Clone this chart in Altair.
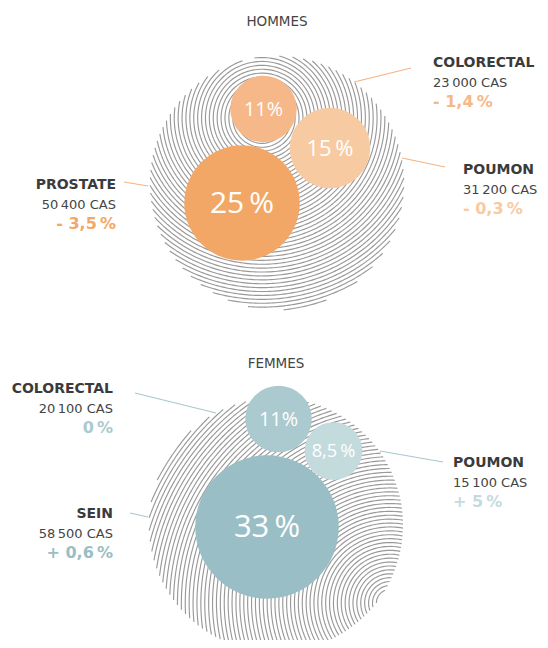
import numpy as np
import pandas as pd
import altair as alt

# ---------------- data ----------------
panels = ["HOMMES", "FEMMES"]

cat_h = ["PROSTATE", "COLORECTAL", "POUMON"]
share_h = [25, 11, 15]
cases_h = ["50\u202f400 CAS", "23\u202f000 CAS", "31\u202f200 CAS"]
change_h = ["- 3,5\u2009%", "- 1,4\u2009%", "- 0,3\u2009%"]

cat_f = ["SEIN", "COLORECTAL", "POUMON"]
share_f = [33, 11, 8.5]
cases_f = ["58\u202f500 CAS", "20\u202f100 CAS", "15\u202f100 CAS"]
change_f = ["+ 0,6\u2009%", "0\u2009%", "+ 5\u2009%"]

# ---------------- layout / style ----------------
W, H = 532, 632
panel_center = {"HOMMES": (277, 183), "FEMMES": (276, 525)}
panel_R = 127
title_offset = -161
swirl_center = {"HOMMES": (-15, -65), "FEMMES": (114, 78)}
swirl_gap = 3.9

bubble_off = {
    ("HOMMES", "PROSTATE"): (-35, 20),
    ("HOMMES", "COLORECTAL"): (-13.5, -74),
    ("HOMMES", "POUMON"): (53, -35),
    ("FEMMES", "SEIN"): (-9, 2),
    ("FEMMES", "COLORECTAL"): (2.5, -106),
    ("FEMMES", "POUMON"): (57.5, -74),
}
label_off = {
    ("HOMMES", "PROSTATE"): (-161, 6, "right"),
    ("HOMMES", "COLORECTAL"): (156, -116, "left"),
    ("HOMMES", "POUMON"): (186, -9, "left"),
    ("FEMMES", "COLORECTAL"): (-163, -132, "right"),
    ("FEMMES", "SEIN"): (-163, -7, "right"),
    ("FEMMES", "POUMON"): (177, -58, "left"),
}
leader_off = {
    ("HOMMES", "PROSTATE"): (-153, -1, -129, 3),
    ("HOMMES", "COLORECTAL"): (77, -101, 134, -115),
    ("HOMMES", "POUMON"): (125, -25, 168, -16),
    ("FEMMES", "COLORECTAL"): (-141, -132, -60, -112),
    ("FEMMES", "SEIN"): (-146, -12, -128, -8),
    ("FEMMES", "POUMON"): (104, -74, 167, -63),
}
colors = {
    ("HOMMES", "PROSTATE"): "#F3A766",
    ("HOMMES", "COLORECTAL"): "#F6B888",
    ("HOMMES", "POUMON"): "#F8CAA2",
    ("FEMMES", "SEIN"): "#9ABEC5",
    ("FEMMES", "COLORECTAL"): "#AACACF",
    ("FEMMES", "POUMON"): "#C4DBDE",
}
leader_color = {"HOMMES": "#F5B383", "FEMMES": "#A9C8CD"}
FONT = "DejaVu Sans"
BUBBLE_FONT = "Open Sans"

# ---------------- tables ----------------
rows = []
for panel, cats, shares, cases, changes in [
    ("HOMMES", cat_h, share_h, cases_h, change_h),
    ("FEMMES", cat_f, share_f, cases_f, change_f),
]:
    for c, s, cs, ch in zip(cats, shares, cases, changes):
        key = (panel, c)
        rows.append(dict(
            panel=panel, name=c, share=s, cases=cs, change=ch,
            cx=panel_center[panel][0] + bubble_off[key][0],
            cy=panel_center[panel][1] + bubble_off[key][1],
            color=colors[key],
            label=str(s).replace(".", ",") + ("%" if s == 11 else "\u2009%"),
        ))
df = pd.DataFrame(rows)

trows = []
lrows = []
for r in rows:
    key = (r["panel"], r["name"])
    ox, oy, al = label_off[key]
    px, py = panel_center[r["panel"]]
    trows.append(dict(x=px + ox, y=py + oy, t=r["name"], kind="name", side=al, color="#3b3b3b"))
    trows.append(dict(x=px + ox, y=py + oy + 20, t=r["cases"], kind="cases", side=al, color="#444444"))
    trows.append(dict(x=px + ox, y=py + oy + 40, t=r["change"], kind="change", side=al, color=r["color"]))
    a, b, c, d = leader_off[key]
    lrows.append(dict(x=px + a, y=py + b, x2=px + c, y2=py + d, color=leader_color[r["panel"]]))
tdf = pd.DataFrame(trows)
ldf = pd.DataFrame(lrows)

# swirl texture (concentric arcs clipped to the panel circle)
srows = []
seg = 0
for p in panels:
    Ox, Oy = panel_center[p]
    Cx, Cy = Ox + swirl_center[p][0], Oy + swirl_center[p][1]
    dx, dy = Ox - Cx, Oy - Cy
    d = np.hypot(dx, dy)
    phi = np.arctan2(dy, dx)
    r = swirl_gap / 2
    while r < d + panel_R:
        if r + d <= panel_R:
            t0, t1 = 0.0, 2 * np.pi
        else:
            cosa = (r * r + d * d - panel_R ** 2) / (2 * r * d)
            if cosa >= 1:
                r += swirl_gap
                continue
            a = np.arccos(np.clip(cosa, -1, 1))
            t0, t1 = phi - a, phi + a
        n = max(3, int((t1 - t0) * r / 2.5))
        th = np.linspace(t0, t1, n)
        for i, tt in enumerate(th):
            srows.append(dict(x=Cx + r * np.cos(tt), y=Cy + r * np.sin(tt), seg=seg, i=i))
        seg += 1
        r += swirl_gap
sdf = pd.DataFrame(srows).round(2)

xs = alt.Scale(domain=[8, 8 + W], nice=False, zero=False)
ys = alt.Scale(domain=[8, 8 + H], nice=False, zero=False, reverse=True)


def X(f):
    return alt.X(f, type="quantitative", scale=xs, axis=None)


def Y(f):
    return alt.Y(f, type="quantitative", scale=ys, axis=None)


swirl = alt.Chart(sdf).mark_line(stroke="#999999", strokeWidth=1.15).encode(
    x=X("x"), y=Y("y"), detail="seg:N", order="i:Q"
)

leaders = alt.Chart(ldf).mark_rule(strokeWidth=1.2).encode(
    x=X("x"), y=Y("y"), x2="x2", y2="y2", color=alt.Color("color:N", scale=None)
)

bubbles = alt.Chart(df).transform_calculate(
    rad="1.75 * datum.share + 14", sz="4 * datum.rad * datum.rad"
).mark_circle(opacity=1).encode(
    x=X("cx"), y=Y("cy"),
    size=alt.Size("sz:Q", scale=None),
    color=alt.Color("color:N", scale=None),
)

btext = alt.Chart(df).mark_text(
    color="white", font=BUBBLE_FONT, baseline="middle", align="center", dy=1
).encode(
    x=X("cx"), y=Y("cy"), text="label:N",
    size=alt.Size("share:Q", scale=alt.Scale(domain=[8, 15, 25, 33], range=[18, 22, 30, 31]), legend=None),
)


def block(kind, size, weight):
    out = []
    for al in ["left", "right"]:
        sub = tdf[(tdf["kind"] == kind) & (tdf["side"] == al)]
        out.append(
            alt.Chart(sub).mark_text(
                font=FONT, fontSize=size, fontWeight=weight, align=al, baseline="alphabetic",
            ).encode(x=X("x"), y=Y("y"), text="t:N", color=alt.Color("color:N", scale=None))
        )
    return out


texts = block("name", 14, "bold") + block("cases", 13, "normal") + block("change", 16, "bold")

tt = pd.DataFrame(dict(
    t=panels,
    x=[panel_center[p][0] for p in panels],
    y=[panel_center[p][1] + title_offset for p in panels],
))
titles = alt.Chart(tt).mark_text(
    font=FONT, fontSize=13.5, color="#444444", align="center", baseline="middle"
).encode(x=X("x"), y=Y("y"), text="t:N")

chart = alt.layer(swirl, leaders, bubbles, btext, *texts, titles).properties(
    width=W, height=H, padding=0, autosize=alt.AutoSizeParams(type="none")
).configure_view(stroke=None)

chart.save("out.html", embed_options={"renderer": "svg", "actions": False})
